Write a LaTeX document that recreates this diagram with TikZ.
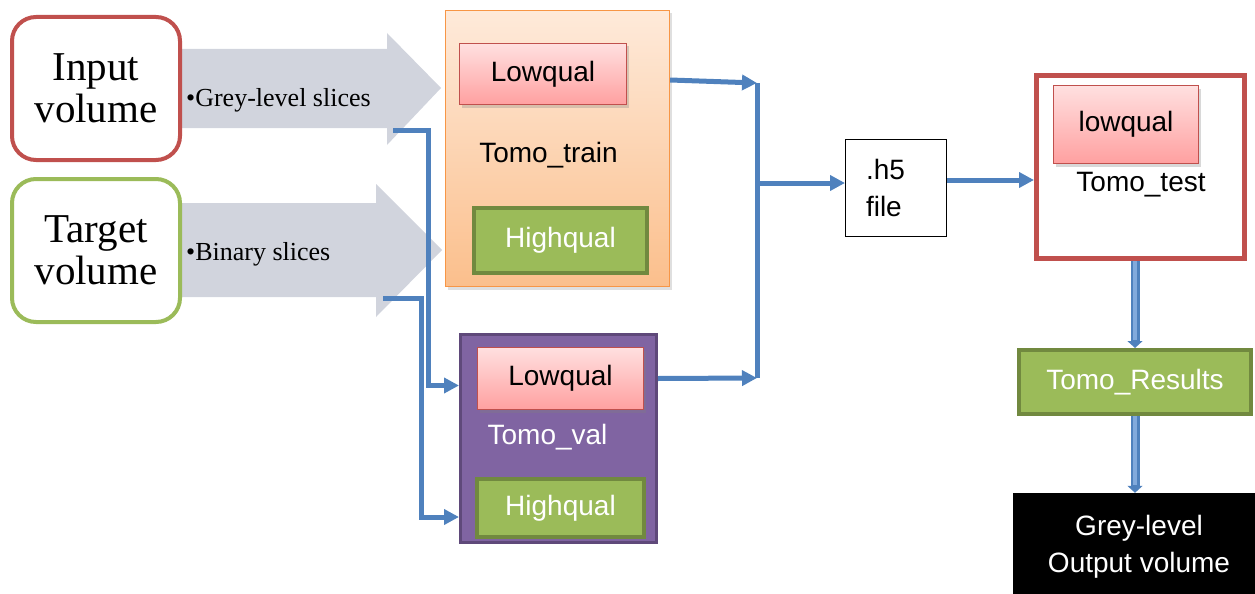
\documentclass[tikz,border=0pt]{standalone}
\usepackage{fontspec}
\newfontfamily\arialfont{Liberation Sans}
\newfontfamily\volfont{Liberation Serif}
\usetikzlibrary{arrows.meta,shadows}

\definecolor{boxred}{RGB}{192,80,77}
\definecolor{volgreen}{RGB}{155,187,89}
\definecolor{greenfill}{RGB}{155,187,89}
\definecolor{greendark}{RGB}{113,137,63}
\definecolor{trainorange}{RGB}{247,150,70}
\definecolor{traintop}{RGB}{254,234,218}
\definecolor{trainbot}{RGB}{251,191,140}
\definecolor{pinktop}{RGB}{255,224,224}
\definecolor{pinkbot}{RGB}{255,160,160}
\definecolor{valpurple}{RGB}{128,100,162}
\definecolor{valdark}{RGB}{95,73,122}
\definecolor{linkblue}{RGB}{79,129,189}
\definecolor{lightlink}{RGB}{130,170,220}
\definecolor{slicegrey}{RGB}{209,212,221}

\tikzset{
  sansfont/.style={font=\arialfont\fontsize{28}{37}\selectfont},
  volbox/.style={line width=4pt, rounded corners=24pt, fill=white,
    minimum width=168pt, minimum height=143pt, align=center,
    font=\volfont\fontsize{41}{42}\selectfont},
  slicetext/.style={anchor=west, inner sep=0pt, font=\volfont\fontsize{26}{30}\selectfont},
  lowbox/.style={sansfont, draw=boxred, line width=1.5pt, top color=pinktop, bottom color=pinkbot,
    drop shadow={opacity=0.3, shadow xshift=2pt, shadow yshift=-3pt}},
  highbox/.style={sansfont, draw=greendark, line width=4pt, fill=greenfill, text=white},
  conn/.style={draw=linkblue, line width=5pt, -{Triangle[length=15pt,width=15pt]}},
  busline/.style={draw=linkblue, line width=5pt},
  downarr/.style={draw=linkblue, line width=9pt, -{Triangle[length=7pt,width=15pt]},
    postaction={draw=lightlink, line width=4pt, -, shorten >=8pt}}
}

\begin{document}
\begin{tikzpicture}[x=1pt,y=-1pt]
  \useasboundingbox (0,0) rectangle (1255,594);

  %% grey slice arrows
  \fill[slicegrey] (182,49) -- (387,49) -- (387,33) -- (441,88) -- (387,145) -- (387,128) -- (182,128) -- cycle;
  \fill[slicegrey] (182,203) -- (376,203) -- (376,184) -- (442,250) -- (376,317) -- (376,297) -- (182,297) -- cycle;

  %% volumes
  \node[volbox, draw=boxred] (input) at (96,88.5) {Input\\volume};
  \node[volbox, draw=volgreen] (target) at (96,250.5) {Target\\volume};
  \node[slicetext] (greysl) at (186,100) {\textbullet Grey-level slices};
  \node[slicetext] (binsl) at (186,254) {\textbullet Binary slices};

  %% Tomo_train
  \node[draw=trainorange, line width=1.2pt, top color=traintop, bottom color=trainbot,
    minimum width=224pt, minimum height=276pt,
    drop shadow={opacity=0.25, shadow xshift=2pt, shadow yshift=-3pt}] (train) at (557.5,148.5) {};
  \node[lowbox, minimum width=167pt, minimum height=61pt] (lowt) at (543,74) {Lowqual};
  \node[sansfont] (trainlbl) at (548.5,155) {Tomo\_train};
  \node[highbox, minimum width=173pt, minimum height=65pt] (hight) at (560.5,240.5) {Highqual};

  %% Tomo_val
  \node[draw=valdark, line width=3pt, fill=valpurple, minimum width=196pt, minimum height=208pt] (val) at (558.5,438.5) {};
  \node[lowbox, minimum width=166pt, minimum height=62pt] (lowv) at (560.5,378.5) {Lowqual};
  \node[sansfont, text=white] (vallbl) at (547.5,437) {Tomo\_val};
  \node[highbox, minimum width=167pt, minimum height=58pt] (highv) at (560.5,508) {Highqual};

  %% h5 file
  \node[draw, line width=1pt, minimum width=101pt, minimum height=97pt, text width=60pt,
    align=left, sansfont] (h5) at (896,188) {.h5\\file};

  %% Tomo_test
  \node[draw=boxred, line width=5pt, fill=white, minimum width=208pt, minimum height=183pt] (test) at (1140.5,167) {};
  \node[lowbox, minimum width=145pt, minimum height=78pt] (lowtest) at (1126,124.5) {lowqual};
  \node[sansfont] (testlbl) at (1141,185) {Tomo\_test};

  %% results
  \node[highbox, minimum width=232pt, minimum height=64pt] (results) at (1135,382) {Tomo\_Results};
  \node[fill=black, text=white, sansfont, align=center, minimum width=252pt, minimum height=107pt] (out) at (1139,546.5) {Grey-level\\Output volume};

  %% connectors
  \coordinate (tapA) at (393,130);
  \coordinate (tapB) at (383,298);
  \coordinate (busT) at (757,83);
  \coordinate (busB) at (757,378);
  \draw[conn] (tapA) -- ++(35,0) |- ([yshift=-7pt]val.west |- lowv.center);
  \draw[conn] (tapB) -- ++(38,0) |- ([yshift=-9pt]val.west |- highv.center);
  \draw[busline] (busT) -- (busB);
  \draw[conn] ([yshift=-6pt]train.east |- lowt.center) -- (busT);
  \draw[conn] (val.east |- lowv.center) -- (busB);
  \draw[conn] ([yshift=5pt]busT |- h5.west) -- ([yshift=5pt]h5.west);
  \draw[conn] ([yshift=8pt]h5.east) -- ([yshift=8pt]test.west |- h5.east);
  \draw[downarr] (results.north |- test.south) -- (results.north);
  \draw[downarr] (results.south) -- (results.south |- out.north);

\end{tikzpicture}
\end{document}
